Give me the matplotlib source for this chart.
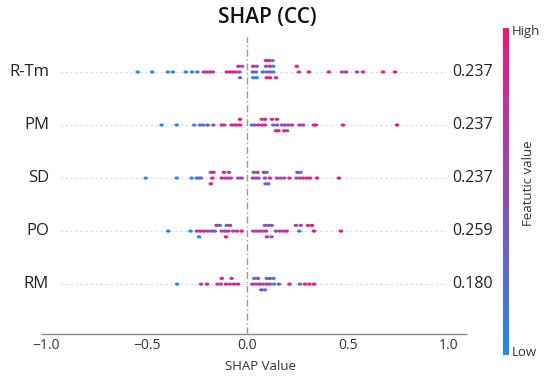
import numpy as np
import matplotlib
matplotlib.use("Agg")
import matplotlib.pyplot as plt
from matplotlib.colors import LinearSegmentedColormap
from matplotlib.transforms import blended_transform_factory

plt.rcParams['font.family'] = ['Open Sans', 'DejaVu Sans']

features = ["R-Tm", "PM", "SD", "PO", "RM"]
mean_abs = ["0.237", "0.237", "0.237", "0.259", "0.180"]
xticks = [-1.0, -0.5, 0.0, 0.5, 1.0]

# SHAP values, stacking level, feature value (0 low .. 1 high)
rtm_shap = [-0.546, -0.474, -0.396, -0.371, -0.307, -0.276, -0.249, -0.216, -0.201, -0.187, -0.172,
            -0.103, -0.087, -0.072, -0.057, -0.040, 0.027, 0.042, 0.077, 0.096, 0.112, 0.128,
            0.256, 0.306, 0.405, 0.470, 0.490, 0.545, 0.575, 0.674, 0.734,
            -0.045, -0.027, 0.029, 0.046, 0.092, 0.112, 0.128, 0.245,
            0.092, 0.108, 0.125,
            -0.037, 0.029, 0.046, 0.096, 0.112, 0.142]
rtm_level = [0]*31 + [1]*8 + [2]*3 + [-1]*6
rtm_feat = [0.0, 0.0, 0.0, 0.05, 0.05, 0.1, 0.15, 0.9, 0.6, 0.85, 0.7,
            0.95, 0.9, 1.0, 0.7, 0.55, 0.5, 0.1, 0.55, 0.05, 0.6, 0.1,
            0.6, 0.95, 0.9, 0.55, 0.85, 0.6, 0.95, 0.95, 1.0,
            0.9, 0.6, 0.95, 0.55, 0.55, 0.9, 0.05, 0.95,
            0.95, 0.9, 0.05,
            0.3, 0.1, 0.05, 0.9, 0.95, 0.9]

pm_shap = [-0.427, -0.352, -0.265, -0.236, -0.220, -0.198, -0.170, -0.128, -0.115, -0.079, -0.067,
           -0.054, -0.037, 0.022, 0.037, 0.054, 0.071, 0.087, 0.128, 0.147, 0.172, 0.187, 0.203,
           0.221, 0.259, 0.276, 0.331, 0.341, 0.475, 0.744,
           -0.037, 0.071, 0.087, 0.122, 0.147,
           0.142, 0.154, 0.183, 0.197]
pm_level = [0]*30 + [1]*5 + [-1]*4
pm_feat = [0.0, 0.0, 0.05, 0.35, 0.1, 0.5, 0.45, 0.9, 0.55, 0.9, 0.6,
           0.85, 1.0, 0.1, 0.4, 0.6, 0.8, 0.9, 0.1, 0.5, 0.55, 0.6, 0.5,
           0.9, 0.55, 0.6, 0.95, 0.9, 0.95, 1.0,
           1.0, 0.55, 0.95, 0.9, 0.95,
           0.95, 0.9, 0.95, 0.55]

sd_shap = [-0.506, -0.352, -0.278, -0.253, -0.241, -0.231, -0.175, -0.128, -0.112, -0.096, -0.082,
           -0.046, -0.029, 0.027, 0.041, 0.054, 0.087, 0.112, 0.147, 0.164, 0.182, 0.209, 0.244,
           0.261, 0.276, 0.296, 0.311, 0.346, 0.455,
           -0.182, -0.169, -0.117, -0.092, 0.032, 0.050, 0.082, 0.095, 0.249, 0.264,
           -0.182, 0.090, 0.104]
sd_level = [0]*29 + [1]*10 + [-1]*3
sd_feat = [0.0, 0.0, 0.05, 0.3, 0.1, 0.4, 0.95, 0.9, 0.6, 0.85, 0.55,
           0.55, 0.6, 0.55, 0.5, 0.55, 0.6, 0.85, 0.55, 0.5, 0.6, 0.9, 0.6,
           0.55, 0.9, 0.95, 0.85, 1.0, 1.0,
           0.6, 0.9, 0.95, 0.6, 0.55, 0.6, 0.95, 0.05, 0.6, 0.2,
           1.0, 0.55, 0.15]

po_shap = [-0.394, -0.283, -0.251, -0.234, -0.216, -0.197, -0.178, -0.162, -0.128, -0.112, -0.095,
           -0.071, -0.052, -0.029, 0.029, 0.045, 0.062, 0.077, 0.092, 0.142, 0.162, 0.179, 0.195,
           0.258, 0.331, 0.465,
           -0.153, -0.137, -0.103, -0.087, 0.087, 0.104, 0.120, 0.241, 0.265, 0.301, 0.321,
           -0.241, -0.107, 0.097, 0.120]
po_level = [0]*26 + [1]*11 + [-1]*4
po_feat = [0.0, 0.0, 0.9, 0.6, 0.95, 0.55, 0.6, 0.3, 0.95, 0.5, 0.9,
           0.55, 0.9, 0.95, 0.55, 0.6, 0.9, 0.4, 0.95, 0.55, 0.9, 0.6, 0.9,
           0.05, 1.0, 1.0,
           0.9, 0.1, 0.15, 0.9, 0.55, 0.3, 0.55, 0.6, 0.55, 0.95, 0.9,
           0.0, 1.0, 0.55, 0.45]

rm_shap = [-0.350, -0.231, -0.201, -0.149, -0.132, -0.107, -0.087, -0.067, -0.047,
           0.025, 0.042, 0.060, 0.077, 0.096, 0.112, 0.132, 0.157, 0.209, 0.261, 0.286, 0.308, 0.331,
           -0.128, -0.079, 0.034, 0.052, 0.096, 0.112, 0.130,
           0.069, 0.087]
rm_level = [0]*22 + [1]*7 + [-1]*2
rm_feat = [0.0, 0.55, 1.0, 0.9, 0.55, 0.9, 0.6, 0.9, 0.95,
           0.9, 0.6, 0.9, 0.55, 0.95, 0.55, 0.1, 0.5, 0.95, 0.3, 0.95, 0.9, 1.0,
           0.95, 0.6, 0.1, 0.55, 0.1, 0.5, 0.05,
           0.55, 0.1]

rows = [(rtm_shap, rtm_level, rtm_feat), (pm_shap, pm_level, pm_feat),
        (sd_shap, sd_level, sd_feat), (po_shap, po_level, po_feat),
        (rm_shap, rm_level, rm_feat)]

cmap = LinearSegmentedColormap.from_list(
    "shapish", ["#1b8cf2", "#5b6ad6", "#8f4cb9", "#c6319b", "#fb1173"])

W, H = 550, 379
fig = plt.figure(figsize=(W / 100, H / 100), dpi=100)
fig.patch.set_facecolor("white")

ax_l, ax_r, ax_b, ax_t = 42, 466, 334, 37
ax = fig.add_axes([ax_l / W, 1 - ax_b / H, (ax_r - ax_l) / W, (ax_b - ax_t) / H])
ax.set_xlim(-1.022, 1.087)
ax.set_ylim(-0.94, 4.66)

t = np.linspace(0, 2 * np.pi, 24)
ell = np.column_stack([1.45 * np.cos(t), np.sin(t)])

lvl_step = 0.108
n = len(features)
for i, (name, (sv, lv, fv)) in enumerate(zip(features, rows)):
    yrow = n - 1 - i
    ax.plot([-0.93, 0.99], [yrow, yrow], color="#d8d8d8", lw=0.8,
            linestyle=(0, (2, 2.5)), zorder=1)
    y = yrow + np.array(lv) * lvl_step
    ax.scatter(sv, y, c=fv, cmap=cmap, vmin=0, vmax=1, s=11, marker=ell,
               linewidths=0, zorder=3)

ax.axvline(0, color="#9a9a9a", lw=1.0, linestyle=(0, (5, 2, 1, 2)), zorder=2)

for s in ["left", "right", "top"]:
    ax.spines[s].set_visible(False)
ax.spines["bottom"].set_color("#888888")
ax.spines["bottom"].set_linewidth(1.0)
ax.set_yticks([])
ax.set_xticks(xticks)
ax.set_xticklabels([f"{v:.1f}".replace("-", "\u2212") for v in xticks])
ax.tick_params(axis="x", length=0, pad=3, labelsize=10, labelcolor="#333333")

tr = blended_transform_factory(fig.transFigure, ax.transData)
for i, name in enumerate(features):
    yrow = n - 1 - i
    fig.text(49 / W, yrow, name, transform=tr, ha="right", va="center",
             fontsize=12, color="#222222")
    fig.text(452 / W, yrow, mean_abs[i], transform=tr, ha="left", va="center",
             fontsize=11.5, color="#222222")

fig.text(267.5 / W, 1 - 17 / H, "SHAP (CC)", ha="center", va="center",
         fontsize=15, fontweight="semibold", color="#111111")
fig.text(260.5 / W, 1 - 366 / H, "SHAP Value", ha="center", va="center",
         fontsize=9.5, color="#333333")

cax = fig.add_axes([503 / W, 1 - 355 / H, 6 / W, (355 - 28) / H])
grad = np.linspace(0, 1, 256).reshape(-1, 1)
cax.imshow(grad, aspect="auto", cmap=cmap, origin="lower", extent=[0, 1, 0, 1])
cax.set_axis_off()
fig.text(512 / W, 1 - 31 / H, "High", ha="left", va="center", fontsize=9.5, color="#333333")
fig.text(512 / W, 1 - 352 / H, "Low", ha="left", va="center", fontsize=9.5, color="#333333")
fig.text(529 / W, 1 - 183 / H, "Featutic value", ha="center", va="center",
         rotation=90, fontsize=9.5, color="#333333")

fig.savefig("out.png", dpi=100, facecolor="white")
